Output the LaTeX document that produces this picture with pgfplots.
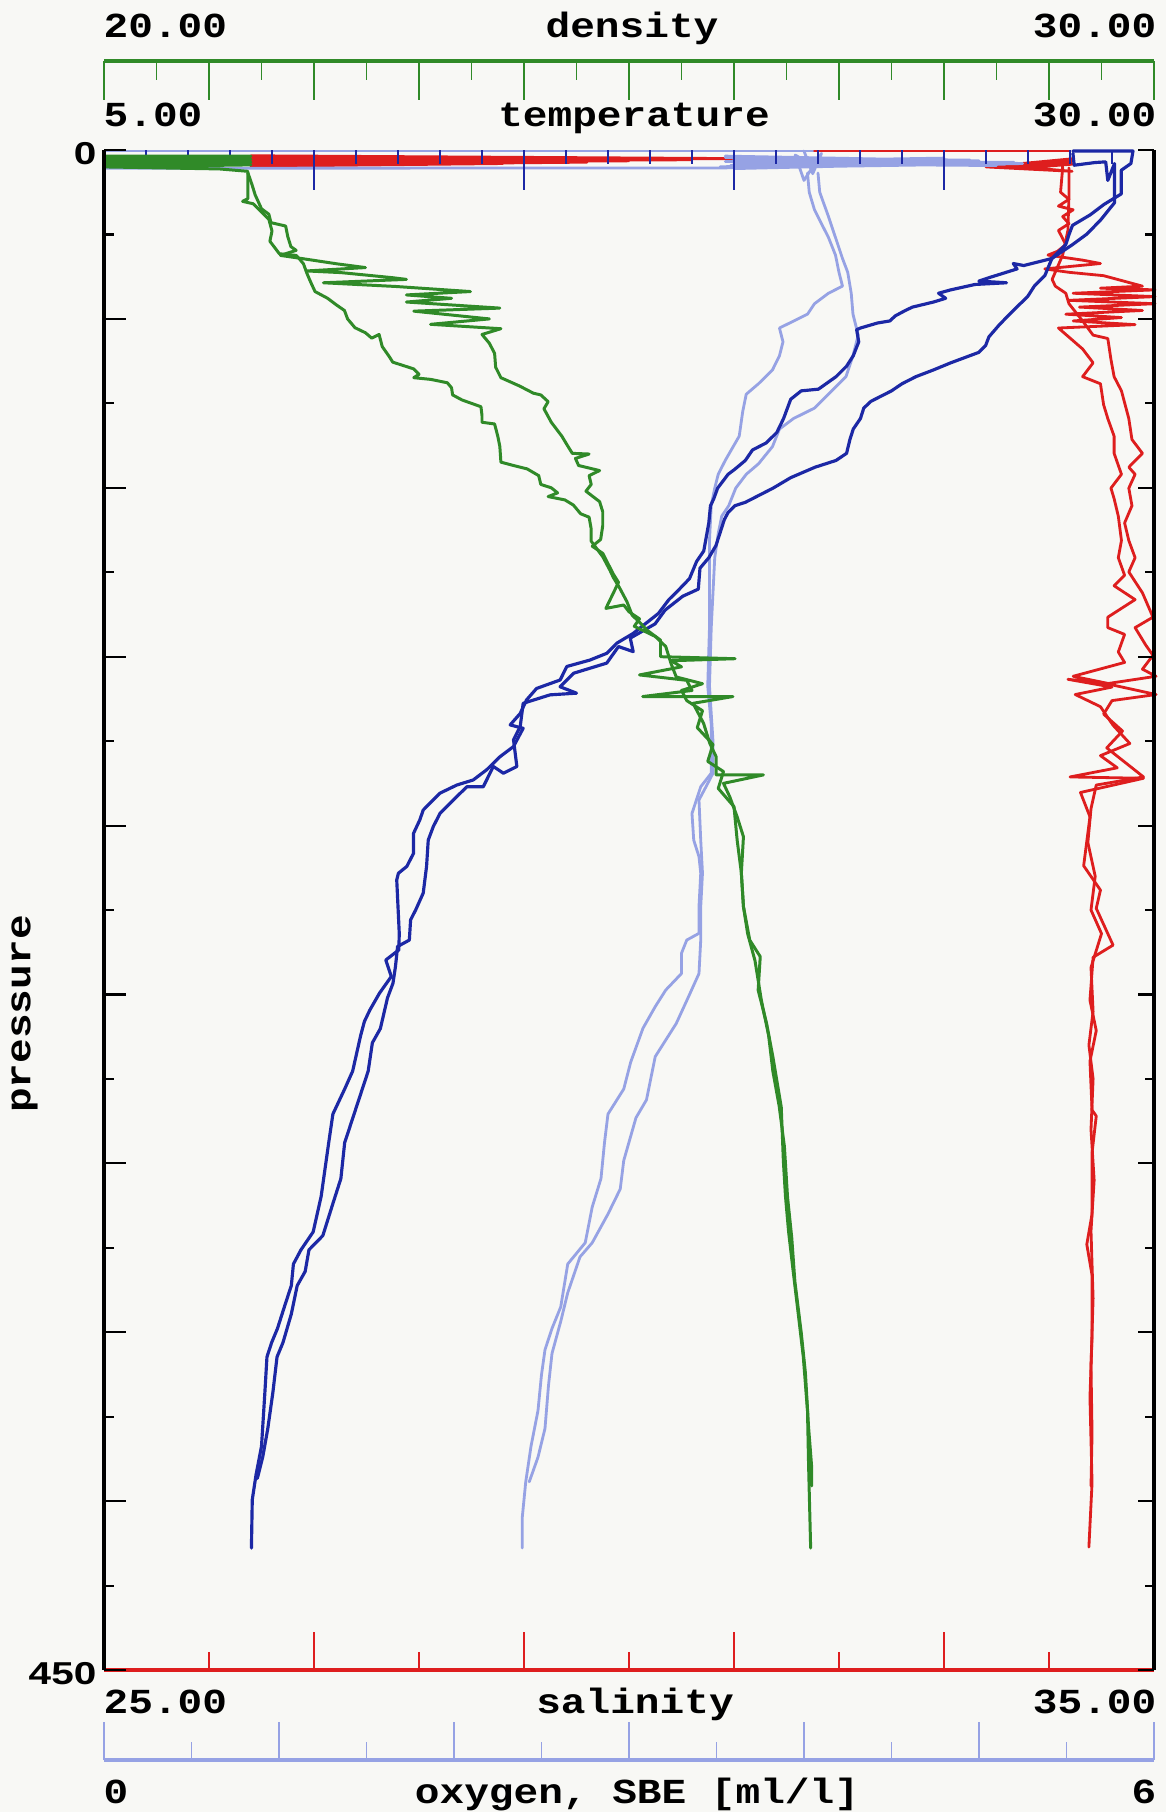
\documentclass[border=0pt]{standalone}
\usepackage{fontspec}
\usepackage{pgfplots}
\pgfplotsset{compat=1.18}
\newfontfamily\monofont{Liberation Mono}[FakeStretch=1.17]
\newfontfamily\tickfont{Liberation Sans}[FakeStretch=1.28]
\newcommand\lab{\monofont\bfseries\fontsize{10}{12}\selectfont}
\definecolor{cT}{RGB}{28,40,165}
\definecolor{cS}{RGB}{222,30,30}
\definecolor{cD}{RGB}{48,138,40}
\definecolor{cO}{RGB}{150,162,228}
\definecolor{bg}{RGB}{248,248,245}
\pgfplotsset{
  base/.style={scale only axis, width=10.5cm, height=15.2cm, at={(1.04cm,1.42cm)}, anchor=south west,
    ymin=0, ymax=450, y dir=reverse, clip=false},
  trace/.style={line width=0.8pt, line join=round, line cap=round, mark=none},
}
\begin{document}
\begin{tikzpicture}
\fill[bg] (0,0) rectangle (11.66,18.12);
\useasboundingbox (0,0) rectangle (11.66,18.12);

% ---------------- salinity (red) ----------------
\begin{axis}[base, xmin=25, xmax=35,
  axis x line*=bottom, axis y line=none,
  x axis line style={draw=cS, line width=1.2pt, -},
  xtick={25,27,...,35}, minor xtick={26,28,...,34}, xticklabels={},
  tick align=inside, major tick length=0.38cm, minor tick length=0.18cm,
  tick style={draw=cS, line width=0.55pt}]
\addplot[cS, trace] coordinates {(26.40,1.7)(31.40,2.6)(26.40,2.4)(30.60,2.9)(26.40,3.1)(30.00,3.2)(26.40,3.8)(29.60,3.6)(26.40,4.5)(28.80,4.0)(26.40,4.8)};
\addplot[cS, trace] coordinates {(31.70,0.3)(34.20,0.3)};
\addplot[cS, trace] coordinates {(34.22,2.6)(33.40,5.0)(34.22,3.4)(33.60,5.0)(34.22,4.2)(33.80,5.2)(34.22,6.3)(33.40,5.0)};
\addplot[cS, trace] coordinates {(34.12,3.0)(34.13,5.3)(34.11,12.5)(34.19,14.6)(34.09,16.6)(34.23,17.7)(34.13,19.7)(34.19,21.8)(34.09,23.8)(34.16,28.0)(34.08,30.0)(33.99,31.1)(34.32,32.6)(34.49,33.6)(33.96,35.2)(34.19,36.2)(34.52,37.2)(34.89,40.3)(34.49,40.9)(35.01,41.4)(34.23,42.4)(35.01,43.4)(34.19,44.5)(35.01,45.5)(34.29,46.5)(34.89,47.5)(34.16,48.6)(34.69,49.6)(34.23,50.6)(34.82,51.7)(34.09,52.7)(34.32,58.9)(34.42,63.0)(34.32,67.1)(34.49,69.2)(34.52,75.4)(34.56,79.5)(34.62,84.7)(34.62,89.8)(34.69,96.0)(34.59,100.1)(34.62,103.2)(34.66,108.4)(34.69,115.6)(34.66,120.7)(34.72,125.9)(34.62,129.0)(34.82,133.1)(34.56,138.3)(34.56,141.4)(34.72,143.4)(34.66,148.6)(34.72,151.7)(34.23,155.8)(34.56,157.9)(34.18,156.7)(34.60,159.0)(34.25,161.2)(34.49,164.8)(34.61,170.3)(34.77,175.7)(34.49,179.3)(34.65,182.9)(34.20,185.6)(34.90,186.0)(34.30,190.2)(34.39,197.4)(34.33,211.9)(34.49,219.1)(34.45,224.5)(34.61,235.4)(34.42,239.0)(34.39,251.7)(34.45,260.7)(34.39,269.8)(34.41,284.2)(34.45,286.0)(34.41,296.9)(34.41,315.0)(34.36,324.0)(34.41,333.1)(34.41,351.2)(34.39,369.3)(34.41,394.6)(34.38,413.6)};
\addplot[cS, trace] coordinates {(34.19,5.3)(34.19,13.5)(34.18,23.8)(34.13,31.1)(34.03,38.3)(34.06,40.3)(34.16,42.4)(34.19,45.5)(34.32,50.6)(34.42,54.8)(34.56,55.8)(34.59,62.0)(34.62,67.1)(34.69,71.3)(34.76,79.5)(34.79,85.7)(34.89,89.8)(34.76,93.9)(34.82,96.0)(34.76,100.1)(34.79,105.3)(34.72,110.4)(34.76,115.6)(34.82,120.7)(34.76,124.9)(34.89,131.1)(34.99,138.3)(34.82,141.4)(34.92,146.5)(34.99,149.6)(34.89,153.7)(35.02,155.8)(34.55,158.0)(35.02,161.2)(34.60,163.0)(34.52,167.0)(34.70,172.0)(34.55,177.0)(34.90,185.6)(34.45,188.0)(34.40,195.0)(34.37,205.0)(34.44,215.0)(34.40,225.0)(34.50,232.0)(34.40,242.0)(34.42,255.0)(34.38,265.0)(34.42,275.0)(34.40,290.0)(34.43,305.0)(34.40,320.0)(34.42,340.0)(34.40,360.0)(34.41,380.0)(34.40,395.5)};
\end{axis}

% ---------------- oxygen (lavender) ----------------
\begin{axis}[base, xmin=0, xmax=6, hide axis]
\addplot[cO, trace] coordinates {(0.00,0.3)(4.05,0.3)};
\addplot[cO, trace] coordinates {(0.00,5.4)(3.53,5.3)(5.25,4.0)(3.55,1.8)(5.00,3.2)(3.60,2.6)(5.10,4.6)(3.60,4.0)(5.20,3.6)(3.52,5.0)(4.80,2.4)(3.55,3.4)(5.15,4.2)(3.58,4.6)(4.95,3.0)(3.55,2.2)(5.05,3.8)(3.60,5.5)};
\addplot[cO, trace] coordinates {(4.00,0.3)(4.05,7.0)(4.10,1.0)(4.00,9.0)(3.95,1.5)(4.07,5.0)};
\addplot[cO, trace] coordinates {(4.02,6.8)(4.03,12.5)(4.06,17.7)(4.10,21.8)(4.14,25.9)(4.18,31.1)(4.20,36.2)(4.22,40.3)(4.14,42.4)(4.06,45.5)(4.02,48.6)(3.86,52.7)(3.88,56.8)(3.86,60.9)(3.82,65.1)(3.74,69.2)(3.67,72.3)(3.65,77.4)(3.63,84.7)(3.55,91.9)(3.51,96.0)(3.49,100.1)(3.47,105.3)(3.46,115.6)(3.46,125.9)(3.46,141.4)(3.45,158.7)(3.47,170.0)(3.47,184.5)(3.41,188.5)(3.36,196.4)(3.37,204.3)(3.40,209.2)(3.41,214.1)(3.40,224.0)(3.40,231.9)(3.33,233.9)(3.30,237.8)(3.30,243.8)(3.21,248.7)(3.15,253.6)(3.08,260.0)(3.01,270.0)(2.97,278.0)(2.88,285.4)(2.86,293.9)(2.84,304.5)(2.79,312.9)(2.75,323.5)(2.65,329.8)(2.61,342.5)(2.56,348.9)(2.52,355.2)(2.50,362.6)(2.48,373.2)(2.44,383.8)(2.41,394.3)(2.39,404.9)(2.39,413.9)};
\addplot[cO, trace] coordinates {(4.08,6.8)(4.09,12.5)(4.14,19.7)(4.18,25.9)(4.22,32.1)(4.25,36.2)(4.27,42.4)(4.28,48.6)(4.31,54.8)(4.28,60.9)(4.24,67.1)(4.14,72.3)(4.06,76.4)(3.94,79.5)(3.86,82.6)(3.82,87.8)(3.74,92.9)(3.67,96.0)(3.61,100.1)(3.57,105.3)(3.53,108.4)(3.51,113.5)(3.49,120.7)(3.48,131.1)(3.47,141.4)(3.46,158.7)(3.48,175.0)(3.48,184.5)(3.44,188.5)(3.40,192.4)(3.41,204.3)(3.42,214.1)(3.41,224.0)(3.41,233.9)(3.40,243.8)(3.34,250.7)(3.27,258.6)(3.15,268.4)(3.10,281.2)(3.04,286.5)(2.97,299.2)(2.95,307.6)(2.88,315.0)(2.79,323.5)(2.72,327.7)(2.65,338.3)(2.61,346.8)(2.56,356.3)(2.54,365.8)(2.52,378.5)(2.48,387.0)(2.43,394.3)};
\end{axis}

% ---------------- temperature (dark blue) ----------------
\begin{axis}[base, xmin=5, xmax=30,
  axis x line*=top, axis y line=none,
  x axis line style={draw=none},
  xtick={5,10,...,30}, minor x tick num=4, xticklabels={},
  tick align=inside, major tick length=0.40cm, minor tick length=0.14cm,
  tick style={draw=cT, line width=0.55pt}]
\addplot[cT, trace, line width=0.9pt] coordinates {(28.07,0.3)(29.50,0.3)(29.45,4.0)(29.22,6.0)(29.22,13.0)(28.81,16.1)(28.48,19.2)(28.06,22.3)(27.98,24.9)(27.90,28.0)(27.65,31.1)(27.57,32.1)(26.90,34.2)(26.65,33.6)(26.74,35.2)(26.07,37.8)(25.83,38.8)(26.49,39.3)(25.74,39.8)(25.16,41.4)(24.87,42.4)(25.04,43.9)(24.75,45.0)(24.25,46.5)(24.08,47.5)(23.84,49.1)(23.71,50.6)(23.42,51.2)(23.01,52.7)(22.92,53.2)(22.97,56.8)(22.84,60.9)(22.68,64.0)(22.43,67.1)(22.01,70.8)(21.60,71.3)(21.35,73.8)(21.18,79.5)(21.02,83.6)(20.77,86.7)(20.44,88.8)(20.27,91.9)(20.02,94.5)(19.86,96.0)(19.61,100.1)(19.52,103.2)(19.44,105.3)(19.40,110.4)(19.28,118.7)(19.11,121.8)(18.94,126.9)(18.70,130.0)(18.45,133.1)(18.20,137.2)(17.60,143.1)(17.21,146.0)(16.97,149.0)(16.57,151.0)(16.02,152.9)(15.86,156.9)(15.30,159.4)(15.06,162.8)(14.91,166.8)(14.67,170.2)(14.98,171.2)(14.75,176.6)(14.43,179.6)(14.11,183.5)(13.79,186.5)(13.40,188.0)(13.00,190.4)(12.60,195.4)(12.52,198.3)(12.37,202.3)(12.37,208.2)(12.21,212.1)(12.01,214.1)(11.97,216.1)(12.00,224.0)(12.03,231.9)(12.02,236.8)(11.71,239.8)(11.84,244.7)(11.56,249.6)(11.33,254.6)(11.20,258.0)(11.11,262.2)(10.92,272.7)(10.73,278.0)(10.45,285.4)(10.35,293.9)(10.17,309.8)(9.98,320.3)(9.69,325.6)(9.51,329.8)(9.46,336.2)(9.32,341.5)(9.13,348.9)(8.99,353.1)(8.88,357.3)(8.83,367.9)(8.75,383.8)(8.62,392.2)(8.53,399.6)(8.51,413.9)};
\addplot[cT, trace, line width=0.9pt] coordinates {(28.07,1.0)(28.10,4.5)(28.60,3.7)(28.85,3.5)(28.90,9.0)(29.06,4.0)(29.06,15.6)(28.73,20.7)(28.40,24.9)(28.06,28.0)(27.82,30.0)(27.57,32.1)(27.40,37.2)(27.15,40.3)(26.99,43.4)(26.65,47.5)(26.32,51.7)(26.07,55.3)(25.99,57.9)(25.83,59.9)(25.16,63.0)(24.75,65.1)(24.33,67.1)(24.00,69.2)(23.75,71.3)(23.26,74.4)(23.09,76.4)(23.01,79.5)(22.84,82.6)(22.76,85.7)(22.68,89.8)(22.43,91.9)(21.93,93.9)(21.35,97.0)(20.93,100.1)(20.60,102.2)(20.27,104.3)(20.02,105.3)(19.86,107.3)(19.77,109.4)(19.69,112.5)(19.57,117.1)(19.40,120.7)(19.19,123.8)(19.15,130.0)(18.78,132.1)(18.36,136.2)(18.12,140.3)(17.53,144.5)(17.60,148.5)(17.25,147.0)(16.97,151.9)(16.18,154.9)(15.86,158.9)(16.25,160.8)(15.62,161.3)(14.98,163.8)(14.91,170.7)(14.75,174.6)(14.83,182.5)(14.51,184.5)(14.27,182.5)(14.03,188.5)(13.64,188.5)(13.32,192.4)(13.00,196.4)(12.84,200.3)(12.72,204.3)(12.68,212.1)(12.60,220.0)(12.42,225.0)(12.30,227.9)(12.27,233.9)(11.99,235.8)(11.94,241.7)(11.88,246.7)(11.75,251.0)(11.58,260.1)(11.39,264.3)(11.29,272.7)(11.01,283.3)(10.73,293.9)(10.64,304.5)(10.45,311.9)(10.21,321.4)(9.88,325.6)(9.79,332.0)(9.60,336.2)(9.46,344.6)(9.26,353.1)(9.12,357.3)(9.02,367.9)(8.90,378.5)(8.78,386.9)(8.65,393.3)};
\end{axis}

% ---------------- density (green) ----------------
\begin{axis}[base, xmin=20, xmax=30, hide axis]
\addplot[cD, trace, line width=0.85pt] coordinates {(20.00,1.8)(21.40,1.8)(20.00,2.6)(21.40,2.8)(20.00,3.4)(21.40,3.6)(20.00,4.2)(21.40,4.4)(20.00,5.0)(21.10,5.6)(21.37,6.3)};
\addplot[cD, trace, line width=0.85pt] coordinates {(21.37,6.7)(21.37,14.4)(21.32,15.2)(21.42,15.9)(21.47,17.4)(21.52,19.0)(21.57,20.5)(21.60,24.0)(21.58,27.0)(21.67,30.7)(21.83,31.2)(21.86,32.2)(21.90,33.7)(21.93,36.3)(21.95,37.8)(21.98,39.9)(22.01,41.9)(22.13,43.9)(22.22,46.0)(22.29,47.5)(22.32,50.0)(22.39,52.6)(22.49,54.1)(22.55,55.7)(22.62,54.6)(22.65,58.2)(22.72,61.3)(22.75,62.8)(22.85,63.8)(22.95,64.8)(23.00,66.4)(22.95,67.4)(23.11,67.9)(23.27,68.9)(23.31,70.4)(23.32,72.5)(23.41,74.0)(23.50,75.0)(23.59,76.0)(23.60,78.6)(23.60,80.6)(23.72,81.1)(23.75,84.7)(23.77,87.8)(23.78,92.4)(23.90,93.4)(24.03,94.4)(24.14,96.4)(24.16,99.0)(24.26,100.0)(24.32,101.5)(24.23,102.6)(24.39,103.6)(24.47,105.1)(24.54,107.7)(24.62,108.7)(24.64,112.2)(24.64,115.8)(24.69,117.9)(24.75,120.4)(24.82,124.5)(24.85,126.5)(24.91,129.6)(24.98,133.7)(25.03,137.7)(25.10,139.8)(25.17,142.1)(25.30,145.1)(25.30,150.0)(26.01,150.6)(25.40,151.2)(25.50,153.0)(25.10,155.4)(25.55,157.0)(25.60,160.0)(25.13,161.8)(25.99,161.8)(25.61,163.8)(25.71,169.7)(25.77,175.7)(25.83,179.6)(25.83,185.0)(26.28,185.0)(25.90,187.5)(25.96,191.5)(26.03,197.4)(26.09,203.3)(26.07,214.1)(26.09,224.0)(26.15,233.9)(26.25,238.8)(26.23,248.7)(26.31,258.5)(26.37,268.4)(26.45,283.3)(26.47,299.3)(26.49,309.7)(26.52,320.3)(26.56,331.0)(26.62,346.7)(26.66,357.3)(26.70,373.3)(26.71,389.0)(26.73,413.9)};
\addplot[cD, trace, line width=0.85pt] coordinates {(21.37,6.7)(21.41,10.3)(21.44,13.3)(21.50,17.4)(21.57,19.0)(21.59,21.5)(21.73,22.5)(21.75,25.6)(21.78,28.6)(21.83,29.7)(21.68,31.2)(21.90,32.2)(22.22,33.7)(22.49,34.8)(21.93,35.8)(22.26,36.3)(22.75,37.8)(22.88,38.3)(22.09,39.3)(22.78,40.4)(23.49,41.9)(22.88,42.9)(23.31,43.9)(22.88,45.0)(23.77,46.8)(22.95,47.7)(23.67,50.0)(23.11,51.6)(23.78,52.9)(23.60,54.6)(23.67,57.2)(23.72,60.2)(23.73,64.3)(23.78,67.4)(23.96,69.9)(24.09,72.0)(24.16,72.5)(24.23,74.5)(24.19,76.6)(24.26,80.6)(24.36,84.7)(24.42,87.8)(24.46,89.8)(24.62,90.0)(24.49,91.3)(24.52,93.4)(24.72,94.9)(24.62,96.4)(24.64,99.0)(24.59,101.0)(24.72,104.1)(24.75,107.1)(24.75,111.2)(24.73,115.3)(24.65,117.3)(24.75,119.4)(24.85,125.5)(24.90,128.0)(24.78,135.7)(24.95,134.7)(25.00,136.7)(25.10,138.8)(25.05,141.0)(25.25,144.0)(25.35,147.0)(25.40,152.0)(25.45,156.0)(25.70,158.0)(25.50,160.0)(25.55,163.0)(25.70,166.0)(25.65,171.0)(25.80,176.0)(25.75,181.0)(25.90,184.0)(25.85,189.0)(26.00,194.4)(26.03,204.3)(26.07,214.0)(26.09,224.0)(26.13,232.0)(26.20,240.0)(26.26,251.6)(26.33,262.2)(26.37,272.7)(26.43,283.0)(26.48,295.0)(26.51,310.0)(26.55,322.0)(26.58,335.0)(26.64,350.0)(26.68,362.0)(26.71,378.0)(26.74,390.0)(26.74,395.5)};
\end{axis}

% ---------------- frame: pressure axes ----------------
\begin{axis}[base, xmin=0, xmax=1,
  axis y line*=left, axis x line=none,
  y axis line style={draw=black, line width=0.9pt, -},
  ytick={0,450}, yticklabels={0,450},
  extra y ticks={50,100,...,400}, extra y tick labels={},
  minor ytick={25,75,...,425},
  tick align=inside, major tick length=0.22cm, minor tick length=0.10cm,
  tick style={draw=black, line width=0.6pt},
  yticklabel style={font=\tickfont\bfseries\fontsize{9}{10}\selectfont, anchor=east, inner sep=0pt, xshift=-0.07cm, yshift=-0.035cm}]
\end{axis}
\begin{axis}[base, xmin=0, xmax=1,
  axis y line*=right, axis x line=none,
  y axis line style={draw=black, line width=0.9pt, -},
  ytick={0,50,...,450}, minor ytick={25,75,...,425}, yticklabels={},
  tick align=inside, major tick length=0.16cm, minor tick length=0.09cm,
  tick style={draw=black, line width=0.6pt}]
\end{axis}

% ---------------- density scale (top) ----------------
\begin{axis}[scale only axis, width=10.5cm, height=1cm, at={(1.04cm,17.51cm)}, anchor=north west,
  xmin=20, xmax=30, ymin=0, ymax=1,
  axis x line*=top, axis y line=none,
  x axis line style={draw=cD, line width=0.9pt, -},
  xtick={20,21,...,30}, minor x tick num=1, xticklabels={},
  tick align=inside, major tick length=0.39cm, minor tick length=0.19cm,
  tick style={draw=cD, line width=0.55pt}]
\end{axis}

% ---------------- oxygen scale (bottom) ----------------
\begin{axis}[scale only axis, width=10.5cm, height=1cm, at={(1.04cm,0.52cm)}, anchor=south west,
  xmin=0, xmax=6, ymin=0, ymax=1,
  axis x line*=bottom, axis y line=none,
  x axis line style={draw=cO, line width=0.9pt, -},
  xtick={0,1,...,6}, minor x tick num=1, xticklabels={},
  tick align=inside, major tick length=0.38cm, minor tick length=0.18cm,
  tick style={draw=cO, line width=0.55pt}]
\end{axis}

% ---------------- texts ----------------
\node[font=\lab, anchor=base west, inner sep=0pt] at (1.03,17.74) {20.00};
\node[font=\lab, anchor=base, inner sep=0pt] at (6.32,17.74) {density};
\node[font=\lab, anchor=base east, inner sep=0pt] at (11.57,17.74) {30.00};
\node[font=\lab, anchor=base west, inner sep=0pt] at (1.03,16.85) {5.00};
\node[font=\lab, anchor=base, inner sep=0pt] at (6.34,16.85) {temperature};
\node[font=\lab, anchor=base east, inner sep=0pt] at (11.57,16.85) {30.00};
\node[font=\lab, anchor=base west, inner sep=0pt] at (1.03,0.99) {25.00};
\node[font=\lab, anchor=base, inner sep=0pt] at (6.35,0.99) {salinity};
\node[font=\lab, anchor=base east, inner sep=0pt] at (11.57,0.99) {35.00};
\node[font=\lab, anchor=base west, inner sep=0pt] at (1.03,0.09) {0};
\node[font=\lab, anchor=base, inner sep=0pt] at (6.37,0.09) {oxygen, SBE [ml/l]};
\node[font=\lab, anchor=base east, inner sep=0pt] at (11.57,0.09) {6};
\node[font=\lab, rotate=90, inner sep=0pt] at (0.245,7.98) {pressure};
\end{tikzpicture}
\end{document}
